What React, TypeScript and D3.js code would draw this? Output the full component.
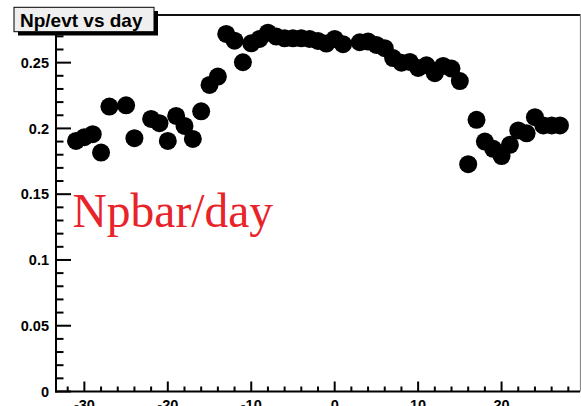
import React from "react";
import * as d3 from "d3";

const days: number[] = [
  -31, -30, -29, -28, -27, -25, -24, -22, -21, -20, -19, -18, -17, -16, -15, -14,
  -13, -12, -11, -10, -9, -8, -7, -6, -5, -4, -3, -2, -1, 0, 1, 3, 4, 5, 6, 7, 8,
  9, 10, 11, 12, 13, 14, 15, 16, 17, 18, 19, 20, 21, 22, 23, 24, 25, 26, 27,
];
const values: number[] = [
  0.1905, 0.1933, 0.1956, 0.1816, 0.2166, 0.2176, 0.1926, 0.2072, 0.204, 0.1905,
  0.2095, 0.2019, 0.192, 0.213, 0.2331, 0.2394, 0.2718, 0.2667, 0.2503, 0.2647,
  0.268, 0.2728, 0.2698, 0.2685, 0.2685, 0.2685, 0.268, 0.2665, 0.2645, 0.268,
  0.264, 0.2655, 0.266, 0.2635, 0.261, 0.2535, 0.25, 0.2505, 0.246, 0.248, 0.242,
  0.2475, 0.2455, 0.236, 0.1728, 0.2065, 0.19, 0.1845, 0.179, 0.1875, 0.1985,
  0.1963, 0.2085, 0.2023, 0.2023, 0.2023,
];
const xMajorTicks: number[] = [-30, -20, -10, 0, 10, 20];
const yMajorTicks: number[] = [0, 0.05, 0.1, 0.15, 0.2, 0.25];
const yTickLabels: string[] = ["0", "0.05", "0.1", "0.15", "0.2", "0.25"];
const xTickLabels: string[] = ["-30", "-20", "-10", "0", "10", "20"];
const titleText = "Np/evt vs day";
const noteText = "Npbar/day";

const W = 581;
const H = 406;
const L = 56;
const R = 580;
const T = 14.5;
const B = 391.5;

export default function App() {
  const x = d3.scaleLinear().domain([-33.4, 29.4]).range([L, R]);
  const y = d3.scaleLinear().domain([0, 0.2866]).range([B, T]);
  const xMinor = d3.range(-32, 29, 2).filter((v) => v % 10 !== 0);
  const yMinor = d3.range(1, 29).map((v) => v / 100).filter((v) => Math.round(v * 100) % 5 !== 0);
  const sans = "'Liberation Sans', Arial, Helvetica, sans-serif";
  return (
    <svg
      width={W}
      height={H}
      style={{ position: "fixed", left: 0, top: 0, background: "#fff" }}
    >
      <rect x={0} y={0} width={W} height={H} fill="#fff" />
      {/* frame */}
      <line x1={L} x2={R} y1={15} y2={15} stroke="#111" strokeWidth={2} />
      <line x1={R + 0.5} x2={R + 0.5} y1={14} y2={B} stroke="#888" strokeWidth={1.2} />
      <line x1={L} x2={L} y1={14} y2={B + 1} stroke="#000" strokeWidth={2} />
      <line x1={L - 1} x2={R} y1={B} y2={B} stroke="#000" strokeWidth={2} />
      {/* x ticks */}
      {xMajorTicks.map((t) => (
        <line key={"xM" + t} x1={x(t)} x2={x(t)} y1={B} y2={B - 10} stroke="#000" strokeWidth={2} />
      ))}
      {xMinor.map((t) => (
        <line key={"xm" + t} x1={x(t)} x2={x(t)} y1={B} y2={B - 5} stroke="#000" strokeWidth={2} />
      ))}
      {xMajorTicks.map((t, i) => (
        <text key={"xl" + t} x={x(t)} y={409.5} textAnchor="middle" fontFamily={sans} fontWeight="bold" fontSize={14.5}>
          {xTickLabels[i]}
        </text>
      ))}
      {/* y ticks */}
      {yMajorTicks.map((t) => (
        <line key={"yM" + t} x1={L} x2={L + 15} y1={y(t)} y2={y(t)} stroke="#000" strokeWidth={2} />
      ))}
      {yMinor.map((t) => (
        <line key={"ym" + t} x1={L} x2={L + 7.5} y1={y(t)} y2={y(t)} stroke="#000" strokeWidth={2} />
      ))}
      {yMajorTicks.map((t, i) => (
        <text key={"yl" + t} x={49} y={y(t)} dy="0.36em" textAnchor="end" fontFamily={sans} fontWeight="bold" fontSize={14.5}>
          {yTickLabels[i]}
        </text>
      ))}
      {/* points */}
      {days.map((d, i) => (
        <circle key={"p" + d} cx={x(d)} cy={y(values[i])} r={9} fill="#000" />
      ))}
      {/* note */}
      <text x={72.5} y={226.5} fill="#e8232a" fontFamily="'Liberation Serif', 'Times New Roman', serif" fontSize={47.5}>
        {noteText}
      </text>
      {/* title box */}
      <rect x={18} y={11} width={140} height={24.5} fill="#000" />
      <rect x={14} y={7.3} width={140} height={24.4} fill="#efefef" stroke="#000" strokeWidth={1} />
      <text x={20} y={27} fontFamily={sans} fontWeight="bold" fontSize={19}>
        {titleText}
      </text>
    </svg>
  );
}
